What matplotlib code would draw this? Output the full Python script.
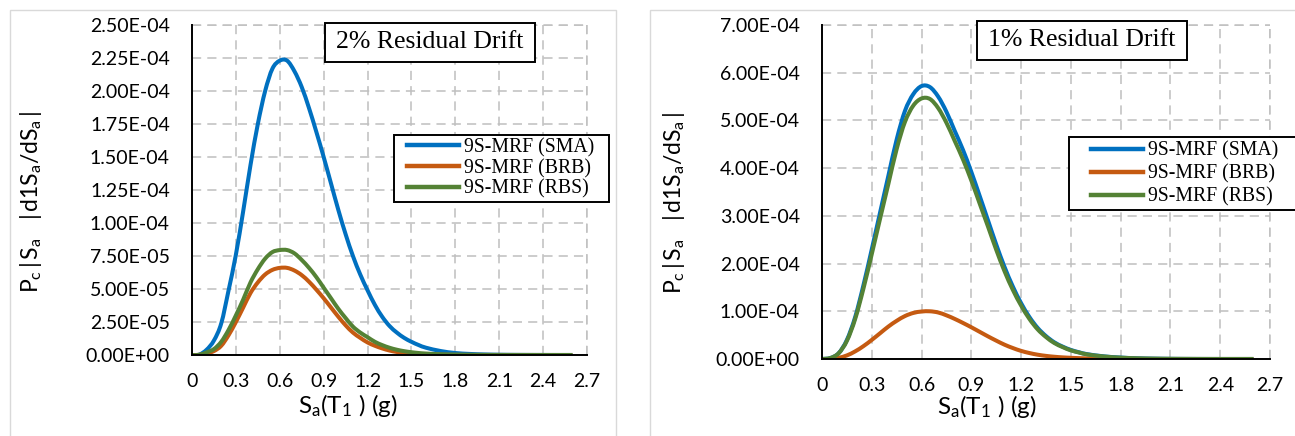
import matplotlib
matplotlib.use("Agg")
import matplotlib.pyplot as plt
from matplotlib.patches import Rectangle, PathPatch
from matplotlib.path import Path
from matplotlib.lines import Line2D

plt.rcParams['font.family'] = ['Lato', 'DejaVu Sans']
plt.rcParams['mathtext.fontset'] = 'custom'
plt.rcParams['mathtext.rm'] = 'Lato'
plt.rcParams['mathtext.it'] = 'Lato:italic'
plt.rcParams['mathtext.bf'] = 'Lato:bold'

# ---------------- data ----------------
sa = [0.00, 0.05, 0.10, 0.15, 0.20, 0.25, 0.30, 0.35, 0.40, 0.45, 0.50, 0.55,
      0.60, 0.65, 0.70, 0.75, 0.80, 0.85, 0.90, 0.95, 1.00, 1.05, 1.10, 1.15,
      1.20, 1.25, 1.30, 1.35, 1.40, 1.45, 1.50, 1.55, 1.60, 1.70, 1.80, 1.90,
      2.00, 2.10, 2.20, 2.30, 2.40, 2.50, 2.60]

# 2% residual drift (units of 1e-4)
sma_2 = [0, 0.003, 0.04, 0.11, 0.24, 0.49, 0.76, 1.09, 1.44, 1.75, 2.00, 2.17,
         2.23, 2.23, 2.15, 2.03, 1.87, 1.69, 1.50, 1.30, 1.10, 0.915, 0.75, 0.61,
         0.49, 0.38, 0.29, 0.22, 0.17, 0.13, 0.10, 0.075, 0.055, 0.030, 0.015, 0.008,
         0.004, 0.002, 0.001, 0.0005, 0.0003, 0.0001, 0.0001]
brb_2 = [0, 0.001, 0.012, 0.03, 0.07, 0.15, 0.25, 0.36, 0.47, 0.55, 0.61, 0.645,
         0.66, 0.66, 0.64, 0.605, 0.555, 0.495, 0.43, 0.36, 0.29, 0.225, 0.17, 0.13,
         0.095, 0.07, 0.05, 0.034, 0.023, 0.016, 0.011, 0.008, 0.005, 0.0025, 0.0012, 0.0006,
         0.0003, 0.0002, 0.0001, 0.0001, 0.0, 0.0, 0.0]
rbs_2 = [0, 0.001, 0.02, 0.045, 0.10, 0.19, 0.30, 0.42, 0.55, 0.65, 0.73, 0.78,
         0.795, 0.795, 0.77, 0.72, 0.66, 0.59, 0.51, 0.43, 0.35, 0.28, 0.215, 0.17,
         0.135, 0.10, 0.075, 0.055, 0.04, 0.029, 0.021, 0.015, 0.011, 0.0055, 0.0027, 0.0013,
         0.0006, 0.0003, 0.0002, 0.0001, 0.0, 0.0, 0.0]

# 1% residual drift (units of 1e-4)
sma_1 = [0, 0.02, 0.12, 0.40, 0.88, 1.55, 2.30, 3.07, 3.84, 4.60, 5.20, 5.55,
         5.72, 5.70, 5.50, 5.18, 4.78, 4.38, 3.92, 3.42, 2.91, 2.40, 1.93, 1.52,
         1.17, 0.88, 0.65, 0.48, 0.35, 0.26, 0.19, 0.14, 0.10, 0.055, 0.03, 0.015,
         0.008, 0.004, 0.002, 0.001, 0.0005, 0.0005, 0.0005]
brb_1 = [0, 0.003, 0.025, 0.075, 0.16, 0.27, 0.40, 0.54, 0.68, 0.80, 0.90, 0.965,
         0.995, 1.00, 0.975, 0.915, 0.84, 0.755, 0.665, 0.57, 0.475, 0.385, 0.30, 0.23,
         0.17, 0.125, 0.09, 0.065, 0.047, 0.034, 0.025, 0.018, 0.013, 0.007, 0.004, 0.002,
         0.001, 0.0006, 0.0003, 0.0002, 0.0001, 0.0001, 0.0001]
rbs_1 = [0, 0.02, 0.12, 0.38, 0.84, 1.48, 2.20, 2.94, 3.67, 4.40, 4.97, 5.31,
         5.46, 5.45, 5.26, 4.95, 4.57, 4.18, 3.74, 3.26, 2.78, 2.29, 1.84, 1.45,
         1.12, 0.84, 0.62, 0.46, 0.335, 0.25, 0.18, 0.135, 0.095, 0.052, 0.028, 0.014,
         0.007, 0.0035, 0.002, 0.001, 0.0005, 0.0005, 0.0005]

series_names = ['9S-MRF (SMA)', '9S-MRF (BRB)', '9S-MRF (RBS)']
colors = ['#0070C0', '#C55A11', '#548235']

x_ticks = [0, 0.3, 0.6, 0.9, 1.2, 1.5, 1.8, 2.1, 2.4, 2.7]
x_tick_labels = ['0', '0.3', '0.6', '0.9', '1.2', '1.5', '1.8', '2.1', '2.4', '2.7']
y_ticks_2 = [0, 0.25e-4, 0.5e-4, 0.75e-4, 1.0e-4, 1.25e-4, 1.5e-4, 1.75e-4, 2.0e-4, 2.25e-4, 2.5e-4]
y_ticks_1 = [0, 1e-4, 2e-4, 3e-4, 4e-4, 5e-4, 6e-4, 7e-4]
titles = ['2% Residual Drift', '1% Residual Drift']

W, H = 1295, 436
fig = plt.figure(figsize=(W / 100, H / 100), dpi=100)

# panel borders
fig.patches.append(Rectangle((10 / W, -0.1), (616 - 10) / W, (H - 10) / H + 0.1,
                             transform=fig.transFigure, fill=False,
                             edgecolor='#D9D9D9', linewidth=1.0))
fig.patches.append(Rectangle((650 / W, -0.1), 0.5, (H - 10) / H + 0.1,
                             transform=fig.transFigure, fill=False,
                             edgecolor='#D9D9D9', linewidth=1.0))


def px_axes(left, top, right, bottom):
    return fig.add_axes([left / W, (H - bottom) / H, (right - left) / W, (bottom - top) / H])


def smooth_path(x, y):
    """Excel-like smoothed line: Catmull-Rom segments as cubic Beziers."""
    n = len(x)
    verts = [(x[0], y[0])]
    codes = [Path.MOVETO]
    for i in range(n - 1):
        i0 = i - 1 if i > 0 else i
        i3 = i + 2 if i + 2 < n else i + 1
        c1 = (x[i] + (x[i + 1] - x[i0]) / 6.0, y[i] + (y[i + 1] - y[i0]) / 6.0)
        c2 = (x[i + 1] - (x[i3] - x[i]) / 6.0, y[i + 1] - (y[i3] - y[i]) / 6.0)
        verts += [c1, c2, (x[i + 1], y[i + 1])]
        codes += [Path.CURVE4] * 3
    return Path(verts, codes)


panels = [
    dict(box=(192, 25, 587, 355), data=[sma_2, brb_2, rbs_2], yt=y_ticks_2,
         title=titles[0], tbox=(325, 23, 535, 62),
         leg=(394, 135, 609, 202), leg_x=407, leg_yc=168.5, leg_sp=0.08,
         ylab=(31, 202), xlab=(348, 413)),
    dict(box=(822, 25, 1270, 359), data=[sma_1, brb_1, rbs_1], yt=y_ticks_1,
         title=titles[1], tbox=(977, 21, 1187, 60),
         leg=(1069, 137, 1300, 210), leg_x=1091, leg_yc=174, leg_sp=0.2,
         ylab=(674, 203), xlab=(987, 414)),
]

ylabel_txt = r'$\mathregular{P_c\,|\,S_a\ \ \ |\,d1S_a/dS_a\,|}$'
xlabel_txt = r'$\mathregular{S_a(T_1\ )\ (g)}$'
grid_ls = (0, (6, 4))

for p in panels:
    ax = px_axes(*p['box'])
    handles = []
    for vals, c, n in zip(p['data'], colors, series_names):
        yv = [v * 1e-4 for v in vals]
        patch = PathPatch(smooth_path(sa, yv), facecolor='none', edgecolor=c,
                          lw=2.9, capstyle='butt', joinstyle='round', zorder=3)
        ax.add_patch(patch)
        handles.append(Line2D([], [], color=c, lw=3.2, label=n))
    ax.set_xlim(0, 2.7)
    ax.set_ylim(p['yt'][0], p['yt'][-1])
    ax.set_xticks(x_ticks)
    ax.set_xticklabels(x_tick_labels)
    ax.set_yticks(p['yt'])
    ax.set_yticklabels([f'{v:.2E}' for v in p['yt']])
    ax.tick_params(axis='both', length=0, labelsize=14, colors='black')
    ax.tick_params(axis='y', pad=16)
    ax.tick_params(axis='x', pad=13)
    ax.grid(True, color='#BFBFBF', linestyle=grid_ls, linewidth=1.1, zorder=0)
    ax.set_axisbelow(True)
    for s in ['top', 'right']:
        ax.spines[s].set_visible(False)
    for s in ['left', 'bottom']:
        ax.spines[s].set_color('black')
        ax.spines[s].set_linewidth(1.4)
        ax.spines[s].set_zorder(4)
    ax.axhline(p['yt'][-1], color='#BFBFBF', linestyle=grid_ls, linewidth=1.1, zorder=0, clip_on=False)
    ax.axvline(2.7, color='#BFBFBF', linestyle=grid_ls, linewidth=1.1, zorder=0, clip_on=False)

    # title box
    l, t, r, b = p['tbox']
    fig.text((l + r) / 2 / W, 1 - (t + b) / 2 / H, p['title'], ha='center', va='center',
             fontsize=18.5, family='Liberation Serif', zorder=6)
    fig.patches.append(Rectangle((l / W, 1 - b / H), (r - l) / W, (b - t) / H,
                                 transform=fig.transFigure, facecolor='white',
                                 edgecolor='black', linewidth=1.4, zorder=5))

    # legend box + legend
    l, t, r, b = p['leg']
    fig.patches.append(Rectangle((l / W, 1 - b / H), (r - l) / W, (b - t) / H,
                                 transform=fig.transFigure, facecolor='white',
                                 edgecolor='black', linewidth=1.4, zorder=5))
    leg = fig.legend(handles=handles, loc='center left',
                     bbox_to_anchor=(p['leg_x'] / W, 1 - p['leg_yc'] / H),
                     bbox_transform=fig.transFigure,
                     prop={'family': 'Liberation Serif', 'size': 14.2}, frameon=False,
                     borderpad=0, labelspacing=p['leg_sp'],
                     handlelength=2.65, handletextpad=0.25, borderaxespad=0)
    leg.set_zorder(10)

    fig.text(p['ylab'][0] / W, 1 - p['ylab'][1] / H, ylabel_txt, rotation=90,
             ha='center', va='center', fontsize=16.5)
    fig.text(p['xlab'][0] / W, 1 - p['xlab'][1] / H, xlabel_txt,
             ha='center', va='baseline', fontsize=17.5)

fig.savefig('out.png', dpi=100)
